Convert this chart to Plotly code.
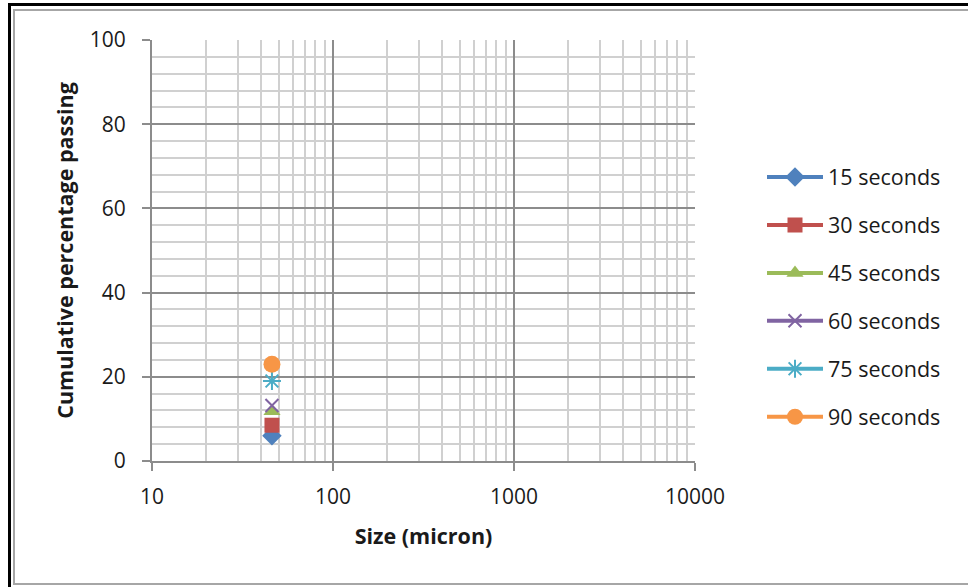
import plotly.graph_objects as go

series_names = ["15 seconds", "30 seconds", "45 seconds", "60 seconds", "75 seconds", "90 seconds"]
size_micron = [46]
passing_15 = [6.0]
passing_30 = [8.5]
passing_45 = [11.8]
passing_60 = [13.2]
passing_75 = [19.0]
passing_90 = [23.0]
x_tick_vals = [10, 100, 1000, 10000]
x_tick_text = ["10", "100", "1000", "10000"]
y_tick_vals = [0, 20, 40, 60, 80, 100]

all_y = [passing_15, passing_30, passing_45, passing_60, passing_75, passing_90]
colors = ["#4F81BD", "#C0504D", "#9BBB59", "#8064A2", "#4BACC6", "#F79646"]
symbols = ["diamond", "square", "triangle-up", "x-thin-open", "asterisk-open", "circle"]
msizes = [15, 15, 15, 13, 15, 17]

FONT = "'Open Sans', Carlito, Calibri, sans-serif"

fig = go.Figure()
for i, (name, yv) in enumerate(zip(series_names, all_y)):
    open_sym = symbols[i].endswith("open")
    fig.add_trace(go.Scatter(
        x=size_micron, y=yv, name=name, mode="lines+markers",
        legendgroup=name,
        line=dict(color=colors[i], width=4),
        marker=dict(symbol=symbols[i], size=msizes[i], color=colors[i],
                    line=dict(color=colors[i], width=2 if open_sym else 0)),
    ))

L, R, T, B = 152, 968 - 695, 40, 587 - 461
pw, ph = 968 - L - R, 587 - T - B

def px_x(p):
    return (p - L) / pw

def px_y(p):
    return (587 - B - p) / ph

fig.update_layout(
    width=968, height=587,
    margin=dict(l=L, r=R, t=T, b=B, autoexpand=False),
    paper_bgcolor="white", plot_bgcolor="white",
    font=dict(family=FONT, size=21, color="#1a1a1a"),
    showlegend=True,
    legend=dict(x=px_x(762), y=px_y(297), xanchor="left", yanchor="middle",
                font=dict(family=FONT, size=21.5, color="#1a1a1a"),
                tracegroupgap=17, itemwidth=56, bgcolor="rgba(0,0,0,0)"),
    xaxis=dict(
        type="log", range=[1, 4], tickvals=x_tick_vals, ticktext=x_tick_text,
        showgrid=True, gridcolor="#8C8C8C", gridwidth=2,
        minor=dict(dtick="D1", showgrid=True, gridcolor="#D0D0D0", gridwidth=2, ticks=""),
        ticks="outside", ticklen=8, tickcolor="#8C8C8C", tickwidth=2,
        showline=True, linecolor="#8C8C8C", linewidth=2,
        ticklabelstandoff=8,
        tickfont=dict(family=FONT, size=21),
        title=dict(text="<b>Size (micron)</b>", font=dict(family=FONT, size=21.5), standoff=20),
        zeroline=False,
    ),
    yaxis=dict(
        range=[0, 100], tickvals=y_tick_vals,
        showgrid=True, gridcolor="#8C8C8C", gridwidth=2,
        minor=dict(dtick=4, showgrid=True, gridcolor="#D0D0D0", gridwidth=2, ticks=""),
        ticks="outside", ticklen=8, tickcolor="#8C8C8C", tickwidth=2,
        showline=True, linecolor="#8C8C8C", linewidth=2,
        ticklabelstandoff=12,
        tickfont=dict(family=FONT, size=21),
        title=dict(text="<b>Cumulative percentage passing</b>", font=dict(family=FONT, size=21.5), standoff=10),
        zeroline=False,
    ),
)

# chart frame (outer black, inner grey)
fig.add_shape(type="rect", xref="paper", yref="paper",
              x0=px_x(9.5), x1=px_x(975), y0=px_y(600), y1=px_y(4.5),
              line=dict(color="black", width=3), layer="above")
fig.add_shape(type="rect", xref="paper", yref="paper",
              x0=px_x(14), x1=px_x(975), y0=px_y(584), y1=px_y(10),
              line=dict(color="#A6A6A6", width=2), layer="above")

fig.write_html("out.html")
